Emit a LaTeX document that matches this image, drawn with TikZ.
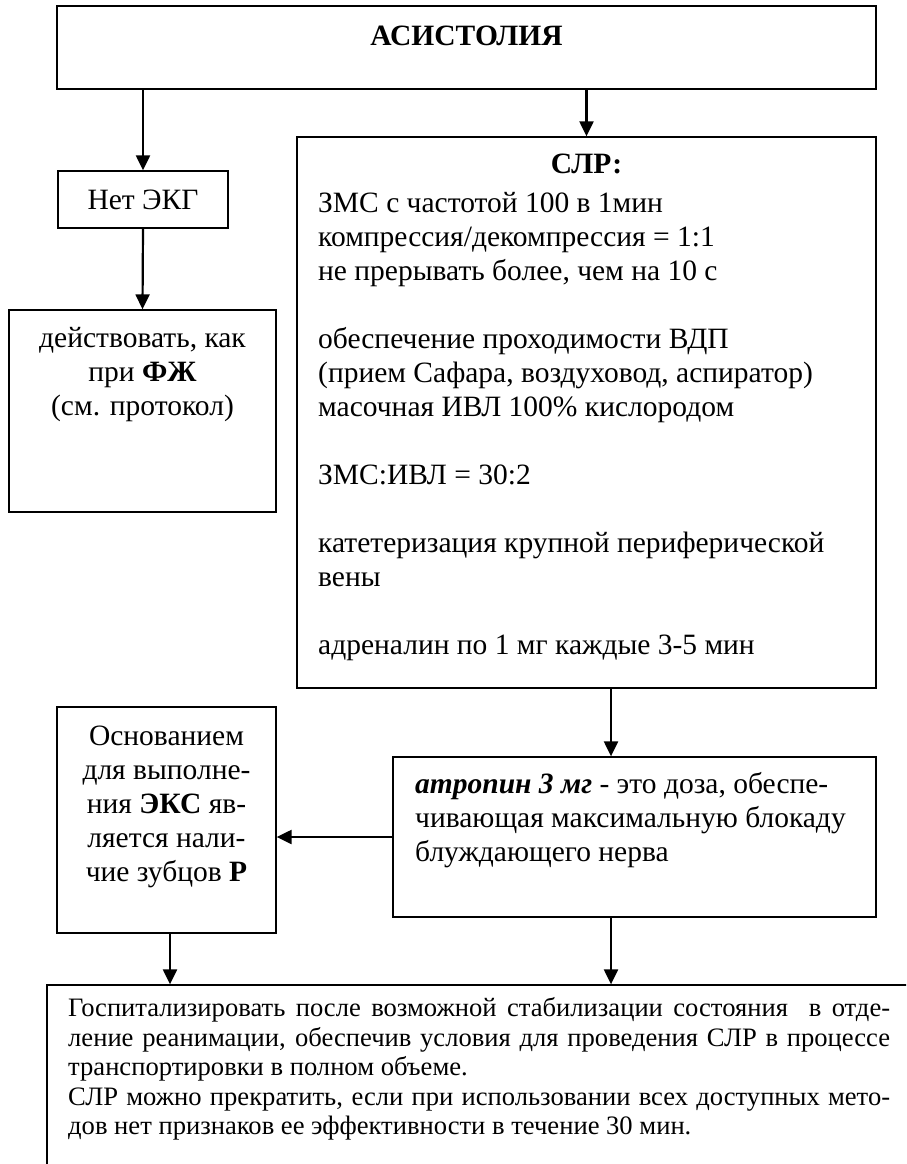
\documentclass[tikz,border=0pt]{standalone}
\usepackage{fontspec}
\setmainfont{Liberation Serif}
\usetikzlibrary{arrows.meta}
\begin{document}
\begin{tikzpicture}[x=1pt,y=-1pt,
  box/.style={draw, line width=1.3pt, rectangle, inner sep=0pt},
  arr/.style={line width=2.2pt, -{Triangle[length=15pt,width=14pt]}},
  txt/.style={inner sep=0pt, font=\fontsize{29.5}{34}\selectfont},
  smalltxt/.style={inner sep=0pt, font=\fontsize{26.6}{29.5}\selectfont}]
\useasboundingbox (0,0) rectangle (906,1164);
\clip (0,0) rectangle (906,1164);
\fill[white] (0,0) rectangle (906,1164);

% boxes
\node[box, minimum width=819pt, minimum height=83pt] (top) at (466.5,47.5) {};
\node[box, minimum width=170pt, minimum height=57pt] (net) at (143,199.5) {};
\node[box, minimum width=267pt, minimum height=202pt] (act) at (142.5,411) {};
\node[box, minimum width=579pt, minimum height=551pt] (slr) at (586.5,412.5) {};
\node[box, minimum width=219pt, minimum height=226pt] (osn) at (166.5,820) {};
\node[box, minimum width=483pt, minimum height=160pt] (atr) at (634.5,837) {};
\node[box, minimum width=893pt, minimum height=215pt] (bot) at (493.5,1092.5) {};

% texts
\node[txt, font=\fontsize{29.5}{34}\selectfont\bfseries] (topT) at (466.5,36) {АСИСТОЛИЯ};
\node[txt] (netT) at (143,200) {Нет ЭКГ};
\node[txt, align=center] (actT) at (142.5,375) {\strut действовать, как\\при \textbf{ФЖ}\\(см. протокол)\strut};
\node[txt, font=\fontsize{29.5}{34}\selectfont\bfseries] (slrT) at (586.5,164) {СЛР:};
\node[txt, align=left, anchor=west] (slrB) at (318,427) {\strut ЗМС с частотой 100 в 1мин\\
компрессия/декомпрессия = 1:1\\
не прерывать более, чем на 10 с\\
\mbox{}\\
обеспечение проходимости ВДП\\
(прием Сафара, воздуховод, аспиратор)\\
масочная ИВЛ 100\% кислородом\\
\mbox{}\\
ЗМС:ИВЛ = 30:2\\
\mbox{}\\
катетеризация крупной периферической\\
вены\\
\mbox{}\\
адреналин по 1 мг каждые 3-5 мин\strut};
\node[txt, align=center] (osnT) at (166.5,807) {\strut Основанием\\для выполне-\\ния \textbf{ЭКС} яв-\\ляется нали-\\чие зубцов \textbf{Р}\strut};
\node[txt, align=left, anchor=west] (atrT) at (415,821) {\strut\textbf{\textit{атропин 3 мг}} - это доза, обеспе-\\чивающая максимальную блокаду\\блуждающего нерва\strut};
\node[smalltxt, align=left, anchor=west] (botT) at (68,1070) {\strut\makebox[822pt][s]{Госпитализировать после возможной стабилизации состояния\ \ в отде-}\\
\makebox[822pt][s]{ление реанимации, обеспечив условия для проведения СЛР в процессе}\\
транспортировки в полном объеме.\\
\makebox[822pt][s]{СЛР можно прекратить, если при использовании всех доступных мето-}\\
дов нет признаков ее эффективности в течение 30 мин.\strut};

% helper coordinates
\coordinate (c1) at (611,0);
\coordinate (c2) at (0,837);
\coordinate (c3) at (170,0);

% connectors
\draw[arr] (net.north |- top.south) -- (net.north);
\draw[arr] (slr.north |- top.south) -- (slr.north);
\draw[arr] (net.south) -- (act.north);
\draw[arr] (slr.south -| c1) -- (atr.north -| c1);
\draw[arr] (atr.west |- c2) -- (osn.east |- c2);
\draw[arr] (osn.south -| c3) -- (bot.north -| c3);
\draw[arr] (atr.south -| c1) -- (bot.north -| c1);
\end{tikzpicture}
\end{document}
